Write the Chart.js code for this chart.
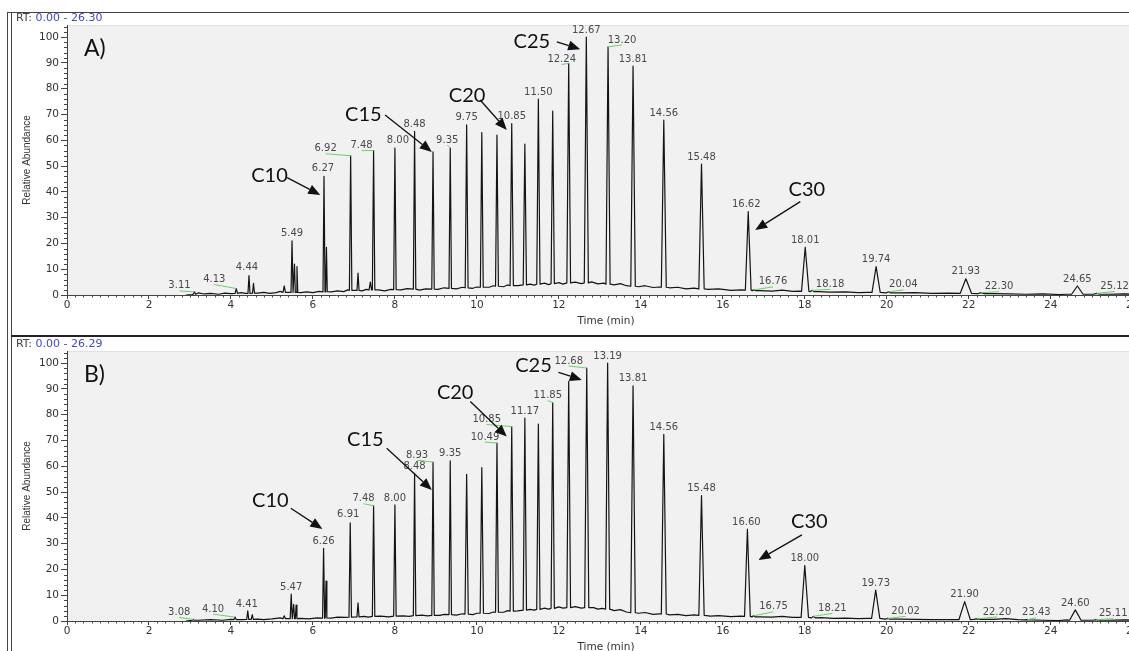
<!DOCTYPE html>
<html>
<head>
<meta charset="utf-8">
<title>Cromatogramas A y B</title>
<script src="https://cdn.jsdelivr.net/npm/chart.js@4.4.1/dist/chart.umd.min.js"></script>
<style>
    html, body { margin: 0; padding: 0; background: #fff; }
    #page { position: relative; width: 1129px; height: 651px; overflow: hidden; background: #fff; }
    .line { position: absolute; }
    .panel { position: absolute; left: 12px; }
    .panel canvas { display: block; }
</style>
</head>
<body>
<div id="page">
    <div class="line" style="left:7px; top:12px; width:2000px; height:700px; border-left:1px solid #444; border-top:1px solid #444;"></div>
    <div class="line" style="left:11px; top:12px; height:700px; border-left:1px solid #444;"></div>
    <div class="line" style="left:11px; top:335px; width:2000px; border-top:2px solid #222;"></div>
    <div class="panel" style="top:13px;"><canvas id="chartA" width="1150" height="322"></canvas></div>
    <div class="panel" style="top:339px;"><canvas id="chartB" width="1150" height="322"></canvas></div>
</div>
<script>
// --- Datos del cromatograma A ---
const rtA        = [3.11, 4.13, 4.44, 4.55, 5.30, 5.49, 5.55, 5.61, 6.27, 6.33, 6.92, 7.10, 7.40, 7.48, 8.00, 8.48, 8.93, 9.35, 9.75, 10.12, 10.49, 10.85, 11.17, 11.50, 11.85, 12.24, 12.67, 13.20, 13.81, 14.56, 15.48, 16.62, 16.76, 18.01, 18.18, 19.74, 20.04, 21.93, 22.30, 24.65, 25.12];
const abundA     = [1.2, 2.5, 7.5, 4.5, 3.5, 21, 12, 11, 46, 18.5, 54, 8.5, 5, 56, 57, 63.5, 55.5, 57, 66, 63, 62, 66.5, 58.5, 76, 71.3, 89.8, 100, 96.2, 88.8, 67.8, 50.8, 32.3, 2.0, 18.5, 1.8, 11, 1.2, 6.3, 0.9, 3.5, 0.6];
const halfWidthA = [0.03, 0.03, 0.025, 0.025, 0.03, 0.025, 0.02, 0.02, 0.025, 0.02, 0.03, 0.025, 0.03, 0.03, 0.03, 0.03, 0.03, 0.03, 0.035, 0.035, 0.035, 0.04, 0.04, 0.04, 0.04, 0.045, 0.05, 0.05, 0.055, 0.06, 0.065, 0.07, 0.04, 0.09, 0.05, 0.1, 0.06, 0.14, 0.08, 0.14, 0.08];
const footA      = [0.3, 0.6, 0.6, 0.7, 1.0, 1.0, 1.0, 1.0, 1.2, 1.3, 1.8, 1.8, 2.0, 2.0, 2.1, 2.3, 2.3, 2.6, 2.8, 3.0, 3.4, 3.6, 3.9, 4.2, 4.4, 4.7, 4.7, 4.2, 3.4, 3.0, 2.4, 1.9, 1.7, 1.4, 1.3, 1.0, 0.8, 0.6, 0.5, 0.3, 0.3];
const baseTimeA  = [2.9, 3.05, 3.2, 3.35, 3.5, 3.7, 3.85, 4.0, 4.25, 4.35, 4.65, 4.8, 4.95, 5.1, 5.2, 5.4, 5.7, 5.85, 6.0, 6.15, 6.45, 6.6, 6.75, 6.85, 7.2, 7.3, 7.6, 7.75, 7.9, 8.15, 8.3, 8.6, 8.75, 9.05, 9.2, 9.5, 9.65, 9.9, 10.0, 10.3, 10.4, 10.65, 10.75, 11.0, 11.3, 11.4, 11.65, 11.75, 12.0, 12.1, 12.4, 12.55, 12.8, 12.95, 13.1, 13.35, 13.5, 13.65, 13.95, 14.1, 14.3, 14.45, 14.7, 14.9, 15.1, 15.3, 15.65, 15.9, 16.2, 16.45, 16.9, 17.2, 17.45, 17.7, 17.9, 18.35, 18.6, 19.0, 19.3, 19.55, 20.3, 20.7, 21.1, 21.5, 22.6, 23.0, 23.4, 23.8, 24.2, 24.4, 24.9, 25.4, 25.8, 26.3];
const baseAbundA = [0, 0.2, 0.8, 0.4, 0.6, 0.3, 0.7, 0.5, 0.9, 0.6, 0.7, 1.0, 0.6, 0.9, 1.4, 1.0, 0.9, 1.2, 0.9, 1.4, 1.2, 1.6, 1.3, 2.0, 1.6, 2.2, 2.0, 1.6, 2.2, 2.0, 2.5, 1.9, 2.4, 2.2, 2.8, 2.4, 3.0, 2.6, 3.1, 3.0, 3.6, 3.2, 3.9, 3.6, 4.2, 3.8, 4.6, 4.0, 4.8, 4.2, 5.0, 4.4, 5.1, 4.3, 4.6, 3.9, 4.4, 3.6, 3.2, 3.6, 2.9, 3.1, 2.8, 3.0, 2.4, 2.7, 2.2, 2.4, 1.8, 2.0, 1.7, 1.5, 1.9, 1.4, 1.5, 1.3, 1.1, 1.2, 0.9, 1.0, 0.8, 0.9, 0.6, 0.7, 0.5, 0.4, 0.3, 0.4, 0.2, 0.3, 0.3, 0.3, 0.4, 0.3];
const labeledA   = [3.11, 4.13, 4.44, 5.49, 6.27, 6.92, 7.48, 8.00, 8.48, 9.35, 9.75, 10.85, 11.50, 12.24, 12.67, 13.20, 13.81, 14.56, 15.48, 16.62, 16.76, 18.01, 18.18, 19.74, 20.04, 21.93, 22.30, 24.65, 25.12];

// --- Datos del cromatograma B ---
const rtB        = [3.08, 4.10, 4.41, 4.52, 5.30, 5.47, 5.53, 5.59, 6.26, 6.32, 6.91, 7.10, 7.48, 8.00, 8.48, 8.93, 9.35, 9.75, 10.12, 10.49, 10.85, 11.17, 11.50, 11.85, 12.24, 12.68, 13.19, 13.81, 14.56, 15.48, 16.60, 16.75, 18.00, 18.21, 19.73, 20.02, 21.90, 22.20, 23.43, 24.60, 25.11];
const abundB     = [0.6, 1.5, 3.9, 2.5, 2.0, 10.4, 6.5, 6.2, 28.2, 15.5, 38.1, 7, 44.7, 45, 57.3, 61.6, 62.1, 56.9, 59.5, 69, 75.4, 78.7, 76.4, 84.7, 92.9, 98.1, 100, 91.2, 72.4, 48.6, 35.6, 2.0, 21.5, 1.8, 12, 1.0, 7.5, 0.8, 0.5, 4.3, 0.5];
const halfWidthB = [0.03, 0.03, 0.025, 0.025, 0.03, 0.025, 0.02, 0.02, 0.025, 0.02, 0.03, 0.025, 0.03, 0.03, 0.03, 0.03, 0.03, 0.04, 0.04, 0.035, 0.04, 0.04, 0.04, 0.04, 0.045, 0.05, 0.05, 0.055, 0.06, 0.065, 0.07, 0.04, 0.09, 0.05, 0.1, 0.06, 0.14, 0.08, 0.08, 0.14, 0.08];
const footB      = [0.3, 0.5, 0.6, 0.6, 0.9, 0.9, 0.9, 0.9, 1.1, 1.2, 1.5, 1.6, 1.8, 1.9, 2.1, 2.2, 2.5, 2.7, 3.0, 3.4, 3.8, 4.2, 4.5, 4.9, 5.2, 5.2, 4.6, 3.2, 2.7, 2.2, 1.8, 1.6, 1.4, 1.2, 1.0, 0.7, 0.5, 0.6, 0.4, 0.3, 0.3];
const baseTimeB  = [2.9, 3.2, 3.5, 3.8, 4.0, 4.25, 4.65, 4.8, 5.0, 5.2, 5.4, 5.7, 5.9, 6.1, 6.45, 6.6, 6.8, 7.25, 7.35, 7.65, 7.85, 8.2, 8.35, 8.65, 8.8, 9.1, 9.2, 9.5, 9.65, 9.9, 10.0, 10.3, 10.4, 10.65, 10.75, 11.0, 11.3, 11.4, 11.65, 11.75, 12.0, 12.1, 12.4, 12.55, 12.85, 12.95, 13.05, 13.35, 13.5, 13.65, 13.95, 14.1, 14.3, 14.45, 14.7, 14.9, 15.1, 15.3, 15.7, 15.9, 16.2, 16.45, 16.9, 17.2, 17.45, 17.7, 17.9, 18.4, 18.7, 19.0, 19.3, 19.55, 20.3, 20.7, 21.1, 21.5, 22.6, 22.9, 23.2, 23.8, 24.2, 24.4, 24.9, 25.4, 25.8, 26.3];
const baseAbundB = [0, 0.3, 0.5, 0.3, 0.6, 0.5, 0.7, 0.5, 0.8, 1.2, 0.9, 1.0, 0.8, 1.2, 1.1, 1.5, 1.4, 1.8, 1.5, 1.9, 1.6, 2.0, 1.8, 2.3, 2.0, 2.2, 2.6, 2.3, 2.8, 2.5, 3.0, 2.9, 3.5, 3.4, 4.0, 3.9, 4.5, 4.2, 5.0, 4.6, 5.5, 5.0, 5.6, 5.0, 5.2, 4.6, 4.9, 4.0, 4.4, 3.5, 3.0, 3.3, 2.6, 2.8, 2.4, 2.6, 2.1, 2.4, 1.9, 2.1, 1.7, 1.9, 1.6, 1.5, 1.8, 1.4, 1.5, 1.3, 1.0, 1.1, 0.9, 1.0, 0.7, 0.6, 0.5, 0.5, 0.6, 0.9, 0.5, 0.3, 0.2, 0.4, 0.3, 0.3, 0.4, 0.3];
const labeledB   = [3.08, 4.10, 4.41, 5.47, 6.26, 6.91, 7.48, 8.00, 8.48, 8.93, 9.35, 10.49, 10.85, 11.17, 11.85, 12.68, 13.19, 13.81, 14.56, 15.48, 16.60, 16.75, 18.00, 18.21, 19.73, 20.02, 21.90, 22.20, 23.43, 24.60, 25.11];

// --- Ejes y marcas de alcanos ---
const xTicks = [0, 2, 4, 6, 8, 10, 12, 14, 16, 18, 20, 22, 24, 26];
const yTicks = [0, 10, 20, 30, 40, 50, 60, 70, 80, 90, 100];
const alkaneNames = ['C10', 'C15', 'C20', 'C25', 'C30'];

// Posición de los textos y flechas (en unidades de los ejes: [tiempo, abundancia])
const calloutLayoutA = [
    { text: [4.94, 46.5], tail: [5.37, 45.5], tip: [6.18, 38.8] },
    { text: [7.23, 70.0], tail: [7.76, 69.8], tip: [8.90, 55.5] },
    { text: [9.76, 77.5], tail: [10.08, 75.6], tip: [10.73, 64.0] },
    { text: [11.34, 98.4], tail: [11.95, 98.2], tip: [12.52, 95.3] },
    { text: [18.05, 40.7], tail: [17.89, 36.2], tip: [16.79, 25.2] }
];
const calloutLayoutB = [
    { text: [4.96, 46.7], tail: [5.46, 43.7], tip: [6.23, 35.7] },
    { text: [7.28, 70.2], tail: [7.80, 67.0], tip: [8.90, 50.8] },
    { text: [9.47, 88.4], tail: [9.84, 85.1], tip: [10.73, 71.5] },
    { text: [11.38, 99.0], tail: [11.99, 96.4], tip: [12.56, 93.5] },
    { text: [18.11, 38.5], tail: [17.93, 33.4], tip: [16.87, 23.7] }
];

// Desplazamiento de las etiquetas de pico (px) y si llevan línea guía verde
const labelNudgeA = {
    '3.11': [-15, -6, true], '4.13': [-22, -9, true], '4.44': [-2, -8], '6.27': [-1, -8],
    '6.92': [-25, -7, true], '7.48': [-12, -5, true], '8.00': [3, -8], '9.35': [-3, -8, true],
    '12.24': [-7, -4, true], '13.20': [14, -7, true], '16.62': [-2, -7], '16.76': [19, -8, true],
    '18.18': [18, -6, true], '20.04': [15, -7, true], '22.30': [18, -6, true], '25.12': [18, -7, true]
};
const labelNudgeB = {
    '3.08': [-14, -7, true], '4.10': [-22, -8, true], '4.41': [-1, -7], '6.91': [-2, -8],
    '7.48': [-10, -7, true], '8.93': [-16, -7, true], '10.49': [-12, -6, true], '10.85': [-25, -7, true],
    '11.85': [-5, -7, true], '12.68': [-18, -7, true], '16.60': [-1, -7], '16.75': [20, -9, true],
    '18.21': [19, -8, true], '20.02': [18, -7, true], '22.20': [20, -7, true], '23.43': [9, -7, true],
    '25.11': [17, -6, true]
};

// --- Construcción de la traza: línea base + picos ---
const buildTrace = (rt, abund, hw, foot, baseT, baseV) => {
    const pts = [];
    baseT.forEach((t, i) => {
        const insidePeak = rt.some((r, k) => t > r - hw[k] && t < r + hw[k]);
        if (!insidePeak) pts.push({ x: t, y: baseV[i] });
    });
    rt.forEach((r, k) => {
        pts.push({ x: r - hw[k], y: foot[k] });
        pts.push({ x: r, y: abund[k] });
        pts.push({ x: r + hw[k], y: foot[k] });
    });
    return pts.sort((a, b) => a.x - b.x);
};

// --- Plugin: fondo, marcas menores, etiquetas y flechas ---
const drawArrow = (ctx, x1, y1, x2, y2) => {
    const ang = Math.atan2(y2 - y1, x2 - x1);
    const len = 12, half = 5;
    const bx = x2 - len * Math.cos(ang), by = y2 - len * Math.sin(ang);
    ctx.beginPath();
    ctx.moveTo(x1, y1);
    ctx.lineTo(bx, by);
    ctx.stroke();
    ctx.beginPath();
    ctx.moveTo(x2, y2);
    ctx.lineTo(bx + half * Math.sin(ang), by - half * Math.cos(ang));
    ctx.lineTo(bx - half * Math.sin(ang), by + half * Math.cos(ang));
    ctx.closePath();
    ctx.fill();
};

const chromPlugin = {
    id: 'chrom',
    beforeDraw(chart) {
        const { ctx, chartArea: a } = chart;
        ctx.save();
        ctx.fillStyle = '#f1f1f1';
        ctx.fillRect(a.left, a.top, a.right - a.left, a.bottom - a.top);
        ctx.strokeStyle = '#e2e2e2';
        ctx.beginPath();
        ctx.moveTo(a.left, a.top + 0.5);
        ctx.lineTo(a.right, a.top + 0.5);
        ctx.stroke();
        ctx.restore();
    },
    afterDraw(chart, args, opts) {
        const { ctx, chartArea: a } = chart;
        const xs = chart.scales.x, ys = chart.scales.y;
        ctx.save();

        // marcas menores
        ctx.strokeStyle = '#444';
        ctx.lineWidth = 1;
        ctx.beginPath();
        for (let i = 1; i < 132; i++) {
            if (i % 10 === 0) continue;
            const px = Math.round(xs.getPixelForValue(i / 5)) + 0.5;
            ctx.moveTo(px, a.bottom);
            ctx.lineTo(px, a.bottom + 2.5);
        }
        for (let v = 2; v <= 104; v += 2) {
            if (v % 10 === 0) continue;
            const py = Math.round(ys.getPixelForValue(v)) + 0.5;
            ctx.moveTo(a.left - 3, py);
            ctx.lineTo(a.left, py);
        }
        ctx.stroke();

        // etiquetas de pico
        ctx.font = '10px "DejaVu Sans"';
        ctx.textAlign = 'center';
        ctx.textBaseline = 'middle';
        opts.labeled.forEach(r => {
            const k = opts.rt.indexOf(r);
            const px = xs.getPixelForValue(r), py = ys.getPixelForValue(opts.abund[k]);
            const key = r.toFixed(2);
            const [dx, dy, leader] = opts.nudge[key] || [0, -7, false];
            const lx = px + dx, ly = py + dy;
            if (leader) {
                ctx.strokeStyle = '#6fcf6f';
                ctx.beginPath();
                ctx.moveTo(lx, ly + 5);
                ctx.lineTo(px, py);
                ctx.stroke();
            }
            ctx.fillStyle = '#4a4a4a';
            ctx.fillText(key, lx, ly);
        });

        // flechas C10..C30
        ctx.strokeStyle = '#111';
        ctx.fillStyle = '#111';
        ctx.lineWidth = 1.3;
        ctx.font = '20px Lato';
        opts.callouts.forEach((c, i) => {
            ctx.fillText(alkaneNames[i], xs.getPixelForValue(c.text[0]), ys.getPixelForValue(c.text[1]));
            drawArrow(ctx,
                xs.getPixelForValue(c.tail[0]), ys.getPixelForValue(c.tail[1]),
                xs.getPixelForValue(c.tip[0]), ys.getPixelForValue(c.tip[1]));
        });

        // letra del panel
        ctx.textAlign = 'left';
        ctx.font = '23px Lato';
        ctx.fillText(opts.letter, a.left + 17, a.top + 24);

        // rango de RT
        ctx.font = '11px "DejaVu Sans"';
        ctx.fillStyle = '#444';
        ctx.fillText('RT: ', 4, 5);
        const w = ctx.measureText('RT: ').width;
        ctx.fillStyle = '#4646c8';
        ctx.fillText(opts.range, 4 + w, 5);
        ctx.restore();
    }
};

// --- Creación de cada gráfico ---
const tickFont = { family: 'DejaVu Sans', size: 10.5 };

const makeChart = (canvasId, trace, pluginOpts) => new Chart(document.getElementById(canvasId), {
    type: 'line',
    data: {
        datasets: [{
            data: trace,
            borderColor: '#141414',
            borderWidth: 1.2,
            borderJoinStyle: 'round',
            pointRadius: 0,
            tension: 0,
            fill: false
        }]
    },
    options: {
        responsive: false,
        animation: false,
        events: [],
        layout: { padding: { top: 12, right: 17, left: 0, bottom: 0 } },
        plugins: { legend: { display: false }, tooltip: { enabled: false }, chrom: pluginOpts },
        scales: {
            x: {
                type: 'linear', min: 0, max: 26.3,
                afterBuildTicks: s => { s.ticks = xTicks.map(v => ({ value: v })); },
                afterFit: s => { s.height = 40; },
                ticks: { font: tickFont, color: '#333', padding: 0, maxRotation: 0, autoSkip: false },
                grid: { drawOnChartArea: false, tickLength: 4, color: '#444' },
                border: { color: '#444' },
                title: { display: true, text: 'Time (min)', font: tickFont, color: '#333', padding: { top: 0, bottom: 7 } }
            },
            y: {
                type: 'linear', min: 0, max: 104.7,
                afterBuildTicks: s => { s.ticks = yTicks.map(v => ({ value: v })); },
                afterFit: s => { s.width = 55; },
                ticks: { font: tickFont, color: '#333', padding: 2, autoSkip: false },
                grid: { drawOnChartArea: false, tickLength: 6, color: '#444' },
                border: { color: '#444' },
                title: { display: true, text: 'Relative Abundance', font: { family: 'Liberation Sans', size: 10 }, color: '#333', padding: { top: 9, bottom: 0 } }
            }
        }
    },
    plugins: [chromPlugin]
});

makeChart('chartA', buildTrace(rtA, abundA, halfWidthA, footA, baseTimeA, baseAbundA), {
    rt: rtA, abund: abundA, labeled: labeledA, nudge: labelNudgeA,
    callouts: calloutLayoutA, letter: 'A)', range: '0.00 - 26.30'
});
makeChart('chartB', buildTrace(rtB, abundB, halfWidthB, footB, baseTimeB, baseAbundB), {
    rt: rtB, abund: abundB, labeled: labeledB, nudge: labelNudgeB,
    callouts: calloutLayoutB, letter: 'B)', range: '0.00 - 26.29'
});
</script>
</body>
</html>
